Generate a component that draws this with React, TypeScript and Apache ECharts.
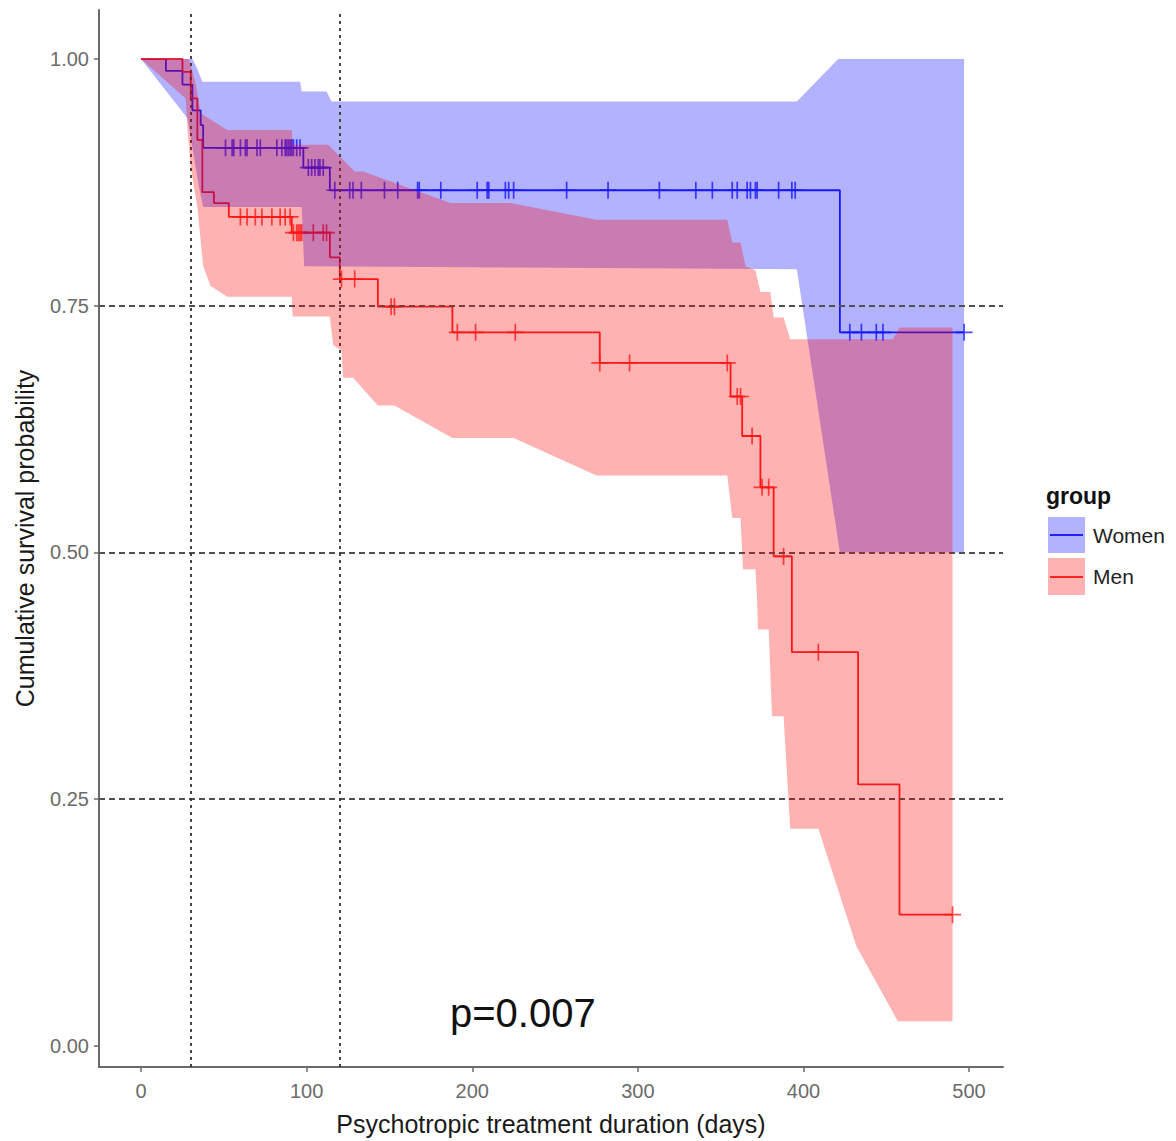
import React, { useEffect, useRef } from "react";
import * as echarts from "echarts";

// ---- Kaplan-Meier step data ----
const womenTimes = [0, 15, 25, 31, 36, 37.5, 98, 114, 422, 497];
const womenSurv = [1.0, 0.988, 0.974, 0.948, 0.933, 0.91, 0.89, 0.867, 0.723, 0.723];
const womenCensor = [
  51, 55, 56, 60, 63, 64, 70, 72, 82, 85, 87, 88, 89, 90, 91, 92, 94, 96,
  101, 103, 105, 107, 108, 110,
  117, 126, 128, 133, 147, 155, 167, 168, 181, 203, 209, 210, 220, 222, 225, 257, 282, 313, 335, 345, 357, 360, 366, 368, 371, 372, 385, 393, 395,
  428, 435, 444, 448, 497,
];

const menTimes = [0, 25, 30, 34, 37, 44, 53, 91, 114, 120, 143, 188, 277, 356, 363, 374, 382, 393, 433, 458, 490];
const menSurv = [1.0, 0.987, 0.96, 0.918, 0.865, 0.854, 0.84, 0.824, 0.799, 0.777, 0.749, 0.723, 0.692, 0.658, 0.618, 0.566, 0.496, 0.399, 0.265, 0.133, 0.133];
const menCensor = [
  60, 64, 69, 73, 79, 84, 87, 90,
  92, 94, 95, 96, 97, 104, 110, 112,
  121, 129, 151, 153, 191, 202, 226, 277, 295, 354, 360, 362, 369, 375, 379, 388, 409, 490,
];

// ---- confidence bands [time, value] ----
const womenUpper = [[0, 1], [31, 1], [34, 0.99], [37, 0.977], [96, 0.977], [97, 0.967], [112, 0.967], [115, 0.957], [396, 0.957], [421, 1.0], [497, 1.0]];
const womenLower = [[0, 1], [28, 0.94], [31, 0.91], [35, 0.87], [37.5, 0.85], [97, 0.85], [98.5, 0.79], [396, 0.787], [422, 0.5], [497, 0.5]];
const menUpper = [[0, 1], [29, 1], [33, 0.975], [36, 0.945], [52, 0.928], [91, 0.928], [91.5, 0.913], [113, 0.913], [129, 0.886], [134, 0.886], [187, 0.854], [223, 0.854], [275, 0.837], [354, 0.837], [357, 0.814], [362, 0.814], [365, 0.79], [371, 0.786], [374, 0.764], [380, 0.764], [382, 0.738], [388, 0.738], [392, 0.716], [454, 0.716], [458, 0.728], [490, 0.728]];
const menLower = [[0, 1], [27, 0.96], [28, 0.93], [30, 0.89], [34, 0.85], [37.5, 0.79], [42, 0.77], [52, 0.759], [91, 0.759], [91.5, 0.739], [114, 0.739], [116, 0.71], [121, 0.705], [122, 0.677], [128, 0.677], [143, 0.649], [153, 0.649], [188, 0.616], [225, 0.616], [275, 0.578], [354, 0.578], [357, 0.535], [362, 0.535], [363.5, 0.483], [371, 0.483], [372, 0.452], [372.5, 0.422], [379, 0.422], [381, 0.334], [388, 0.334], [392, 0.22], [409, 0.22], [432, 0.101], [457, 0.025], [490, 0.025]];

const xTicks = [0, 100, 200, 300, 400, 500];
const yTicks = [0, 0.25, 0.5, 0.75, 1.0];
const refTimes = [30, 120];
const refProbs = [0.25, 0.5, 0.75];
const groups = ["Women", "Men"];
const pValueText = "p=0.007";

const FONT = "Liberation Sans, Arial, sans-serif";
const BLUE = "#2222ff";
const RED = "#ff2222";

function survAt(times: number[], surv: number[], t: number) {
  let v = surv[0];
  for (let i = 0; i < times.length; i++) if (times[i] <= t) v = surv[i];
  return v;
}

function bandRender(upper: number[][], lower: number[][], fill: string) {
  return (params: any, api: any) => {
    if (params.dataIndex !== 0) return null;
    const pts = upper.map((p) => api.coord(p)).concat(lower.slice().reverse().map((p) => api.coord(p)));
    return { type: "polygon", shape: { points: pts }, style: { fill } };
  };
}

const plusSymbol = "path://M5,0 L5,10 M0,5 L10,5";

export default function App() {
  const ref = useRef<HTMLDivElement>(null);
  useEffect(() => {
    if (!ref.current) return;
    const chart = echarts.init(ref.current, null, { renderer: "svg" });
    const option: any = {
      animation: false,
      grid: { left: 99, top: 10, right: 173, bottom: 73 },
      xAxis: {
        type: "value",
        min: -25.4,
        max: 520.5,
        splitLine: { show: false },
        axisLine: { show: true, onZero: false, lineStyle: { color: "#6a6a6a", width: 2 } },
        axisTick: { show: true, length: 5, customValues: xTicks, lineStyle: { color: "#6a6a6a", width: 1.5 } },
        axisLabel: { customValues: xTicks, margin: 14, fontSize: 20, color: "#6b6b6b", fontFamily: FONT },
        name: "Psychotropic treatment duration (days)",
        nameLocation: "middle",
        nameGap: 44,
        nameTextStyle: { fontSize: 25, color: "#1a1a1a", fontFamily: FONT },
      },
      yAxis: {
        type: "value",
        min: -0.0213,
        max: 1.0496,
        splitLine: { show: false },
        axisLine: { show: true, onZero: false, lineStyle: { color: "#6a6a6a", width: 2 } },
        axisTick: { show: true, length: 5, customValues: yTicks, lineStyle: { color: "#6a6a6a", width: 1.5 } },
        axisLabel: {
          customValues: yTicks,
          margin: 10,
          fontSize: 20,
          color: "#6b6b6b",
          fontFamily: FONT,
          formatter: (v: number) => v.toFixed(2),
        },
        name: "Cumulative survival probability",
        nameLocation: "middle",
        nameGap: 62,
        nameTextStyle: { fontSize: 25, color: "#1a1a1a", fontFamily: FONT },
      },
      series: [
        {
          type: "line",
          name: groups[0],
          step: "end",
          z: 2,
          showSymbol: false,
          data: womenTimes.map((t, i) => [t, womenSurv[i]]),
          lineStyle: { color: BLUE, width: 1.8 },
        },
        {
          type: "line",
          name: groups[1],
          step: "end",
          z: 2,
          showSymbol: false,
          data: menTimes.map((t, i) => [t, menSurv[i]]),
          lineStyle: { color: RED, width: 1.8 },
        },
        {
          type: "scatter",
          z: 3,
          symbol: plusSymbol,
          symbolSize: 17,
          data: womenCensor.map((t) => [t, survAt(womenTimes, womenSurv, t)]),
          itemStyle: { color: "none", borderColor: BLUE, borderWidth: 1.7 },
        },
        {
          type: "scatter",
          z: 3,
          symbol: plusSymbol,
          symbolSize: 17,
          data: menCensor.map((t) => [t, survAt(menTimes, menSurv, t)]),
          itemStyle: { color: "none", borderColor: RED, borderWidth: 1.7 },
        },
        {
          type: "custom",
          z: 4,
          silent: true,
          data: [[0, 1]],
          renderItem: bandRender(womenUpper, womenLower, "rgba(0,0,255,0.3)"),
        },
        {
          type: "custom",
          z: 5,
          silent: true,
          data: [[0, 1]],
          renderItem: bandRender(menUpper, menLower, "rgba(255,0,0,0.3)"),
        },
        {
          type: "line",
          z: 6,
          data: [],
          markLine: {
            silent: true,
            symbol: "none",
            label: { show: false },
            data: [
              ...refProbs.map((p) => ({ yAxis: p, lineStyle: { type: [6, 4], color: "#505050", width: 1.8 } })),
              ...refTimes.map((t) => ({ xAxis: t, lineStyle: { type: [3, 4], color: "#333333", width: 1.8 } })),
            ],
          },
        },
      ],
      graphic: [
        { type: "text", left: 450, top: 993, style: { text: pValueText, fontSize: 40, fontFamily: FONT, fill: "#111" } },
        { type: "text", left: 1046, top: 484, style: { text: "group", fontSize: 23, fontWeight: "bold", fontFamily: FONT, fill: "#111" } },
        { type: "rect", shape: { x: 1048, y: 517, width: 37, height: 36 }, style: { fill: "rgba(0,0,255,0.3)" } },
        { type: "line", shape: { x1: 1050, y1: 535, x2: 1083, y2: 535 }, style: { stroke: BLUE, lineWidth: 2 } },
        { type: "text", left: 1093, top: 525, style: { text: groups[0], fontSize: 21, fontFamily: FONT, fill: "#222" } },
        { type: "rect", shape: { x: 1048, y: 558, width: 37, height: 37 }, style: { fill: "rgba(255,0,0,0.3)" } },
        { type: "line", shape: { x1: 1050, y1: 577, x2: 1083, y2: 577 }, style: { stroke: RED, lineWidth: 2 } },
        { type: "text", left: 1093, top: 566, style: { text: groups[1], fontSize: 21, fontFamily: FONT, fill: "#222" } },
      ],
    };
    chart.setOption(option);
    return () => chart.dispose();
  }, []);
  return <div ref={ref} style={{ position: "absolute", left: 0, top: 0, width: 1176, height: 1141 }} />;
}
